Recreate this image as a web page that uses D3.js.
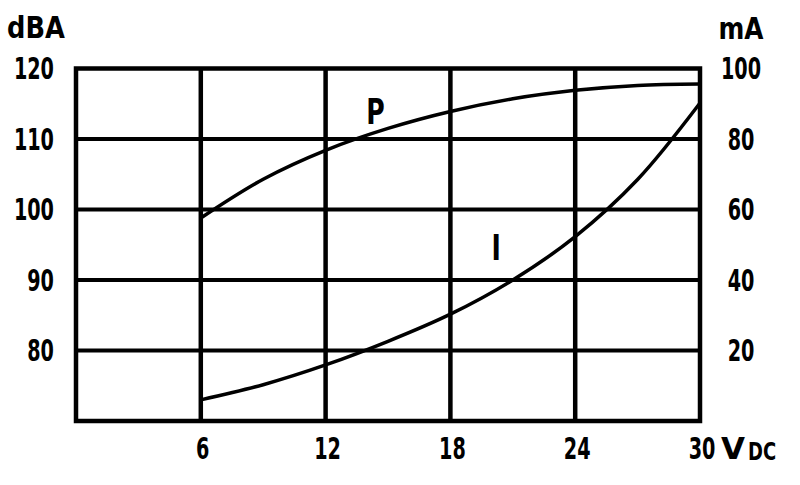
<!DOCTYPE html>
<html>
<head>
<meta charset="utf-8">
<script src="https://cdn.jsdelivr.net/npm/d3@7/dist/d3.min.js"></script>
<style>
  html, body { margin: 0; padding: 0; background: #fff; }
  svg text { font-family: "DejaVu Sans", sans-serif; font-weight: bold; fill: #000; }
</style>
</head>
<body>
<svg id="chart" width="800" height="485"></svg>
<script>
// ---- data ----
const voltage   = [6, 9, 12, 15, 18, 21, 24, 27, 30];
const soundDBA  = [98.8, 104.3, 108.4, 111.5, 113.9, 115.7, 116.9, 117.6, 117.8];
const currentMA = [6.0, 10.3, 15.9, 22.6, 30.3, 40.0, 52.3, 68.5, 90.2];
const xTicks     = [6, 12, 18, 24, 30];
const leftTicks  = [80, 90, 100, 110, 120];
const rightTicks = [20, 40, 60, 80, 100];
const leftUnit = "dBA", rightUnit = "mA", xUnit = "V", xUnitSub = "DC";
const seriesLabels = [
  { name: "P", x: 14.4, v: 113.8, axis: "left" },
  { name: "I", x: 20.2, v: 49.0,  axis: "right" }
];

// ---- layout ----
const m = { left: 76, right: 100, top: 68.5, bottom: 64 };
const W = 800, H = 485;
const svg = d3.select("#chart");

const x  = d3.scaleLinear().domain([0, 30]).range([m.left, W - m.right]);
const yL = d3.scaleLinear().domain([70, 120]).range([H - m.bottom, m.top]);
const yR = d3.scaleLinear().domain([0, 100]).range([H - m.bottom, m.top]);

const g = svg.append("g");

// grid lines
g.selectAll("line.v").data(xTicks.filter(d => d < 30)).enter().append("line")
  .attr("x1", d => x(d)).attr("x2", d => x(d))
  .attr("y1", yL(70)).attr("y2", yL(120))
  .attr("stroke", "#000").attr("stroke-width", 4.5);
g.selectAll("line.h").data(leftTicks.filter(d => d < 120)).enter().append("line")
  .attr("x1", x(0)).attr("x2", x(30))
  .attr("y1", d => yL(d)).attr("y2", d => yL(d))
  .attr("stroke", "#000").attr("stroke-width", 4);

// frame
g.append("rect")
  .attr("x", x(0)).attr("y", yL(120))
  .attr("width", x(30) - x(0)).attr("height", yL(70) - yL(120))
  .attr("fill", "none").attr("stroke", "#000").attr("stroke-width", 4.5);

// curves
const lineL = d3.line().x((d, i) => x(voltage[i])).y(d => yL(d)).curve(d3.curveCatmullRom);
const lineR = d3.line().x((d, i) => x(voltage[i])).y(d => yR(d)).curve(d3.curveCatmullRom);
g.append("path").attr("d", lineL(soundDBA)).attr("fill", "none").attr("stroke", "#000").attr("stroke-width", 3.5);
g.append("path").attr("d", lineR(currentMA)).attr("fill", "none").attr("stroke", "#000").attr("stroke-width", 3.5);

// condensed label helper
function label(sel, data, fx, fy, anchor, size, sx, txt) {
  const gg = sel.selectAll(null).data(data).enter().append("g")
    .attr("transform", d => `translate(${fx(d)},${fy(d)}) scale(${sx},1)`);
  return gg.append("text")
    .attr("text-anchor", anchor).attr("dominant-baseline", "central")
    .attr("font-size", size).text(txt);
}

// series labels
label(g, seriesLabels, d => x(d.x), d => d.axis === "left" ? yL(d.v) : yR(d.v), "middle", 35, 0.72, d => d.name);

// tick labels
label(g, leftTicks, d => 54, d => yL(d), "end", 31, 0.62, d => d);
label(g, rightTicks, d => 741, d => yR(d), "middle", 31, 0.62, d => d);
label(g, xTicks, d => x(d) + 2, d => 448, "middle", 31, 0.62, d => d);

// units
label(g, [leftUnit], d => 7, d => 28, "start", 31, 0.83, d => d);
label(g, [rightUnit], d => 741, d => 29, "middle", 31, 0.8, d => d);
label(g, [xUnit], d => 721, d => 448, "start", 31, 1.0, d => d);
label(g, [xUnitSub], d => 748, d => 451, "start", 25, 0.72, d => d);
</script>
</body>
</html>
